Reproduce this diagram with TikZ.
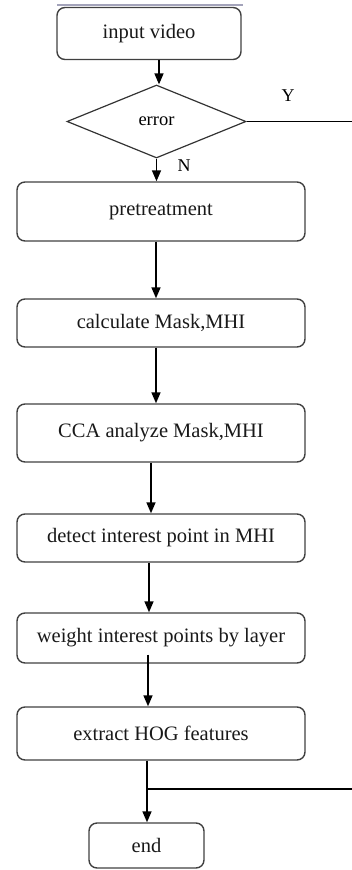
\documentclass[tikz,border=0pt]{standalone}
\usepackage{fontspec}
\setmainfont{Liberation Serif}
\usetikzlibrary{shapes.geometric,arrows.meta}
\begin{document}
\begin{tikzpicture}[x=1pt,y=-1pt,
  box/.style={draw=black!75,line width=1.4pt,rounded corners=8pt,inner sep=0pt,
    font=\fontsize{20.5}{24}\selectfont,text=black!90},
  arr/.style={line width=1.5pt,-{Triangle[width=9pt,length=11pt]}},
  ln/.style={line width=1.5pt},
  lbl/.style={font=\fontsize{18}{22}\selectfont}]
\useasboundingbox (0,0) rectangle (352,870);
\draw[line width=1.5pt,black!25!blue!20!gray!60] (57,5) -- (243,5);
\node[box,minimum width=184pt,minimum height=52pt] (in) at (149,33.5) {input video};
\node[draw=black!80,line width=1.2pt,shape=diamond,aspect=2.45,inner sep=0pt,
  minimum width=179pt,minimum height=73pt,font=\fontsize{18.5}{22}\selectfont] (err) at (156.5,121.5) {error};
\node[box,minimum width=288pt,minimum height=59pt] (pre) at (161,211.5) {pretreatment};
\node[box,minimum width=288pt,minimum height=48pt] (cal) at (161,323) {calculate Mask,MHI};
\node[box,minimum width=288pt,minimum height=58pt] (cca) at (161,433) {CCA analyze Mask,MHI};
\node[box,minimum width=288pt,minimum height=48pt] (det) at (161,538) {detect interest point in MHI};
\node[box,minimum width=288pt,minimum height=50pt] (wei) at (161,638) {weight interest points by layer};
\node[box,minimum width=288pt,minimum height=53pt] (ext) at (161,733.5) {extract HOG features};
\node[box,minimum width=115pt,minimum height=45pt] (end) at (146.5,845.5) {end};
\node[lbl] (y) at (288,96) {Y};
\node[lbl] (n) at (184,166) {N};
\coordinate (yend) at (352,121.5);
\coordinate (join) at (147,789);
\coordinate (jend) at (352,789);
\draw[arr] (in.south -| 159,0) -- (err.north -| 159,0);
\draw[arr] (err.south) -- (pre.north -| err.south);
\draw[ln] (err.east) -- (yend);
\draw[arr] (pre.south -| 156,0) -- (cal.north -| 156,0);
\draw[arr] (cal.south -| 156,0) -- (cca.north -| 156,0);
\draw[arr] (cca.south -| 151,0) -- (det.north -| 151,0);
\draw[arr] (det.south -| 149,0) -- (wei.north -| 149,0);
\draw[arr] ([yshift=9pt]wei.south -| 148,0) -- (ext.north -| 148,0);
\draw[arr] (ext.south -| join) -- (end.north -| join);
\draw[ln] (join) -- (jend);
\end{tikzpicture}
\end{document}
